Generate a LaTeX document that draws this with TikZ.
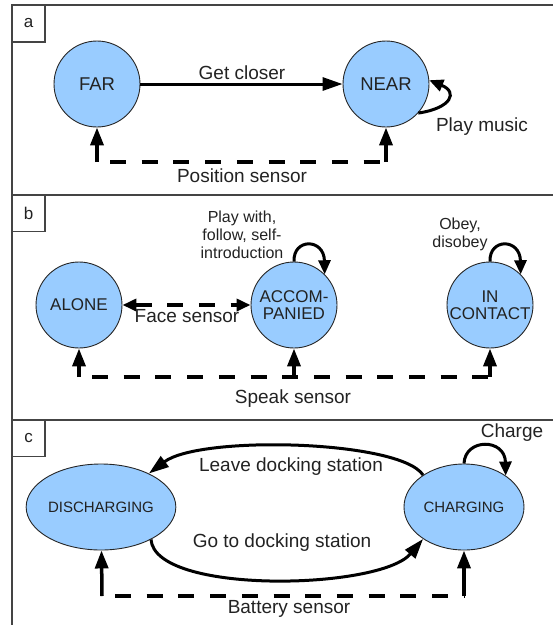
\documentclass[tikz,border=0pt]{standalone}
\usepackage{fontspec}
\setmainfont{Liberation Sans}
\usetikzlibrary{arrows.meta,shapes.geometric}
\definecolor{stfill}{HTML}{99CCFF}
\definecolor{txt}{HTML}{222222}
\definecolor{frame}{HTML}{444444}
\tikzset{
 st/.style={circle,draw=black!85,line width=0.9pt,fill=stfill,minimum size=86pt,inner sep=0pt,text=txt,align=center,font=\fontsize{17}{16.5}\selectfont},
 est/.style={ellipse,draw=black!85,line width=0.9pt,fill=stfill,minimum height=86pt,inner sep=0pt,text=txt,font=\fontsize{15}{15}\selectfont},
 lbl/.style={text=txt,font=\fontsize{19}{22}\selectfont,inner sep=0pt},
 small/.style={text=txt,font=\fontsize{16}{18}\selectfont,align=center,inner sep=0pt},
 trans/.style={line width=3pt,-{Triangle[length=20pt,width=13pt]}},
 loopar/.style={line width=3pt,-{Triangle[length=14pt,width=12pt]}},
 sensor/.style={line width=4pt,dash pattern=on 16pt off 15.7pt},
 sensarrow/.style={line width=3.5pt,-{Triangle[length=18pt,width=13pt]}},
 panel/.style={draw=frame,line width=1.2pt},
 tag/.style={draw=frame,line width=1.2pt,minimum width=33pt,minimum height=37pt,inner sep=0pt,text=txt,font=\fontsize{17}{17}\selectfont}
}
\begin{document}
\begin{tikzpicture}[x=1pt,y=-1pt]
\useasboundingbox (0,0) rectangle (553,625);
\clip (0,0) rectangle (553,625);
% panels
\draw[panel] (12,5) rectangle (570,195);
\draw[panel] (12,195) rectangle (570,420);
\draw[panel] (12,420) rectangle (570,640);
\node[tag] (taga) at (28.5,23.5) {a};
\node[tag] (tagb) at (28.5,213) {b};
\node[tag] (tagc) at (28.5,438) {c};

% ---------- panel a
\node[st,font=\fontsize{18.5}{18}\selectfont] (far) at (97,84) {FAR};
\node[st,font=\fontsize{18.5}{18}\selectfont] (near) at (386,84) {NEAR};
\draw[trans] (far) -- (near);
\node[lbl] (lgc) at (242,73) {Get closer};
\draw[loopar] (near.-42) .. controls (452,108) and (458,92) .. (near.5);
\node[lbl] (lpm) at (482,127) {Play music};
\coordinate (pa1) at (97,162);
\coordinate (pa2) at (386,162);
\draw[sensor,dash phase=18.7pt] (pa1) -- (pa2);
\draw[sensarrow] (pa1) -- (far);
\draw[sensarrow] (pa2) -- (near);
\node[lbl] (lps) at (242,176) {Position sensor};

% ---------- panel b
\node[st] (alone) at (79,305) {ALONE};
\node[st] (acc) at (294,305) {ACCOM-\\PANIED};
\node[st] (inc) at (490,305) {IN\\CONTACT};
\draw[sensor,{Triangle[length=14pt,width=12pt]}-{Triangle[length=14pt,width=12pt]}] (alone) -- (acc);
\node[lbl] (lfs) at (187,316) {Face sensor};
\draw[loopar] (acc.90) .. controls (293,238) and (324,238) .. (acc.45);
\node[small] (lpw) at (242,235) {Play with,\\follow, self-\\introduction};
\draw[loopar] (inc.90) .. controls (489,238) and (520,238) .. (inc.45);
\node[small] (lob) at (460,234) {Obey,\\disobey};
\coordinate (pb1) at (79,377);
\coordinate (pb2) at (294,377);
\coordinate (pb3) at (490,377);
\draw[sensor,dash phase=18.7pt] (pb1) -- (pb3);
\draw[sensarrow] (pb1) -- (alone);
\draw[sensarrow] (pb2) -- (acc);
\draw[sensarrow] (pb3) -- (inc);
\node[lbl] (lss) at (293,399) {Speak sensor};

% ---------- panel c
\node[est,minimum width=130pt] (dis) at (101,507) {DISCHARGING};
\node[est,minimum width=120pt] (chg) at (464,507) {CHARGING};
\draw[trans] (chg.142) .. controls (400,440) and (200,435) .. (dis.35);
\node[lbl] (lld) at (291,467) {Leave docking station};
\draw[trans] (dis.-33) .. controls (155,595) and (380,590) .. (chg.218);
\node[lbl] (lgd) at (282,543) {Go to docking station};
\draw[loopar] (chg.90) .. controls (465,438) and (505,438) .. (chg.37);
\node[lbl] (lch) at (512,433) {Charge};
\coordinate (pc1) at (102,596);
\coordinate (pc2) at (464,596);
\draw[sensor,dash phase=18.7pt] (pc1) -- (pc2);
\draw[sensarrow] (pc1) -- (dis);
\draw[sensarrow] (pc2) -- (chg);
\node[lbl] (lbs) at (289,609) {Battery sensor};
\end{tikzpicture}
\end{document}
